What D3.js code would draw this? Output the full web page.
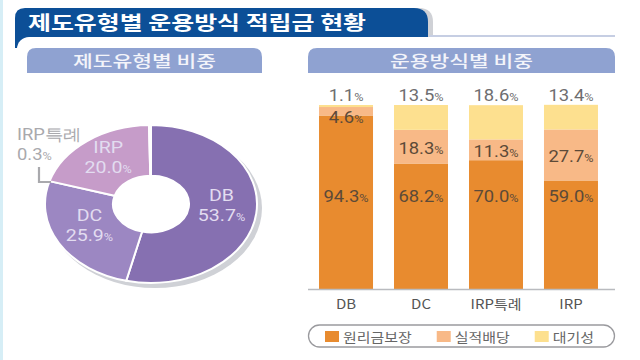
<!DOCTYPE html>
<html><head><meta charset="utf-8">
<script src="https://cdn.jsdelivr.net/npm/d3@7"></script>
<style>body{margin:0;background:#fff}svg{display:block}</style>
</head><body><svg id="c" width="640" height="360"></svg>
<script>
// ---- data ----
const title = "제도유형별 운용방식 적립금 현황";
const pieTitle = "제도유형별 비중";
const barTitle = "운용방식별 비중";
const pieCategories = ["DB", "DC", "IRP", "IRP특례"];
const pieValues = [53.7, 25.9, 20.0, 0.3];
const barCategories = ["DB", "DC", "IRP특례", "IRP"];
const seriesNames = ["원리금보장", "실적배당", "대기성"];
const principal = [94.3, 68.2, 70.0, 59.0];
const performance = [4.6, 18.3, 11.3, 27.7];
const standby = [1.1, 13.5, 18.6, 13.4];

// ---- style ----
const KR = "'Noto Sans CJK KR', 'Noto Sans', sans-serif";
const NUM = "Roboto, 'Noto Sans', sans-serif";
const SX = 1.15; // horizontal stretch seen in the reference
const pieColors = ["#8670b1", "#9c87c2", "#c69cc9", "#b8a6d4"];
const barColors = ["#e88b2f", "#f8b987", "#fde08f"];

const svg = d3.select("#c");

// left light strip
svg.append("rect").attr("x", 0).attr("y", 0).attr("width", 3).attr("height", 360).attr("fill", "#d6eef6");

// ---- header ----
const tabD = "M15,48 V18 Q15,8 25,8 H414 Q428,8 428,22 V48 Z";
svg.append("path").attr("d", tabD).attr("transform", "translate(5,0)").attr("fill", "#cfd1d6");
svg.append("path").attr("d", tabD).attr("fill", "#0c4f97");
svg.append("rect").attr("x", 17).attr("y", 37).attr("width", 700).attr("height", 400).attr("rx", 12).attr("fill", "#fff");
svg.append("line").attr("x1", 430).attr("x2", 615).attr("y1", 36).attr("y2", 36)
  .attr("stroke", "#c6cee3").attr("stroke-width", 2);
svg.append("text").attr("x", 28).attr("y", 30).text(title)
  .attr("font-family", KR).attr("font-weight", 700).attr("font-size", 19)
  .attr("fill", "#fff").attr("textLength", 338).attr("lengthAdjust", "spacingAndGlyphs");

function topRounded(x0, x1, y0, y1, r) {
  return `M${x0},${y1} V${y0 + r} Q${x0},${y0} ${x0 + r},${y0} H${x1 - r} Q${x1},${y0} ${x1},${y0 + r} V${y1} Z`;
}
[[27, 262, pieTitle], [308, 615, barTitle]].forEach(([a, b, t]) => {
  svg.append("path").attr("d", topRounded(a, b, 48, 73, 9)).attr("fill", "#8fa2d1");
  svg.append("text").attr("x", (a + b) / 2).attr("y", 67).attr("text-anchor", "middle").text(t)
    .attr("font-family", KR).attr("font-weight", 500).attr("font-size", 16).attr("fill", "#f3f4fa")
    .attr("textLength", 143).attr("lengthAdjust", "spacingAndGlyphs");
});

// ---- pie ----
const cx = 151, cy = 204, R = 106, ry = 0.745, R0 = 38;
const pie = d3.pie().sort(null).value(d => d)(pieValues);
const arc = d3.arc().innerRadius(R0).outerRadius(R);
const labelArc = d3.arc().innerRadius(71).outerRadius(71);

svg.append("ellipse").attr("cx", cx + 4).attr("cy", cy + 4).attr("rx", R + 1).attr("ry", R * ry + 1)
  .attr("fill", "#cfd1d6");
svg.append("ellipse").attr("cx", cx).attr("cy", cy).attr("rx", R0).attr("ry", R0 * ry).attr("fill", "#fff");
const pg = svg.append("g").attr("transform", `translate(${cx},${cy}) scale(1,${ry})`);
pg.selectAll("path").data(pie).join("path")
  .attr("d", arc).attr("fill", (d, i) => pieColors[i])
  .attr("stroke", "#fff").attr("stroke-width", 2).attr("vector-effect", "non-scaling-stroke");

function pctText(g, value, size, pctSize, color, anchor) {
  const t = g.append("text").attr("text-anchor", anchor).attr("fill", color).attr("font-family", NUM);
  t.append("tspan").attr("font-size", size).text(value.toFixed(1));
  t.append("tspan").attr("font-size", pctSize).text("%");
  return t;
}

pie.forEach((d, i) => {
  if (i === 3) return;
  const [lx, ly] = labelArc.centroid(d);
  const x = cx + lx, y = cy + ly * ry;
  const g1 = svg.append("g").attr("transform", `translate(${x},${y - 9}) scale(${SX},1)`);
  g1.append("text").attr("text-anchor", "middle").attr("font-family", NUM).attr("font-size", 17)
    .attr("fill", "#e2dcf0").text(pieCategories[i]);
  const g2 = svg.append("g").attr("transform", `translate(${x},${y + 11}) scale(${SX},1)`);
  pctText(g2, pieValues[i], 17, 11, "#e2dcf0", "middle");
});
// small slice callout
{
  const g1 = svg.append("g").attr("transform", `translate(17,140) scale(${SX},1)`);
  g1.append("text").attr("font-family", NUM).attr("font-size", 16).attr("fill", "#a9a9ad").text(pieCategories[3]);
  const g2 = svg.append("g").attr("transform", `translate(17,160) scale(${SX},1)`);
  pctText(g2, pieValues[3], 16, 11, "#a9a9ad", "start");
  svg.append("path").attr("d", "M39,167 V182 H51").attr("fill", "none").attr("stroke", "#a9a9ad").attr("stroke-width", 2.2);
}

// ---- stacked bars ----
const x = d3.scaleBand().domain(barCategories).range([308, 609]).paddingInner(0.28).paddingOuter(0.147);
const y = d3.scaleLinear().domain([0, 100]).range([289, 105]);
const rows = barCategories.map((c, i) => ({ cat: c, s0: principal[i], s1: performance[i], s2: standby[i] }));
const stack = d3.stack().keys(["s0", "s1", "s2"])(rows);

const bg = svg.append("g");
stack.forEach((layer, li) => {
  bg.selectAll(null).data(layer).join("rect")
    .attr("x", d => x(d.data.cat)).attr("width", x.bandwidth())
    .attr("y", d => y(d[1])).attr("height", d => y(d[0]) - y(d[1]))
    .attr("fill", barColors[li]);
});
// baseline
svg.append("line").attr("x1", 308).attr("x2", 615).attr("y1", y(0) + 0.5).attr("y2", y(0) + 0.5)
  .attr("stroke", "#b9bbbf").attr("stroke-width", 1.5);

// labels
stack.forEach((layer, li) => {
  layer.forEach(d => {
    const xc = x(d.data.cat) + x.bandwidth() / 2;
    const v = d[1] - d[0];
    let yy, color;
    if (li === 0) { yy = y(50) + 5; color = "#5c4a38"; }
    else if (li === 1) { yy = Math.max((y(d[0]) + y(d[1])) / 2 + 7, y(100) + 18); color = "#5c4a38"; }
    else { yy = y(100) - 4; color = "#6e6e70"; }
    const g = svg.append("g").attr("transform", `translate(${xc},${yy}) scale(${SX},1)`);
    pctText(g, v, 16, 11, color, "middle");
  });
});
// category axis labels
barCategories.forEach(c => {
  svg.append("g").attr("transform", `translate(${x(c) + x.bandwidth() / 2},309) scale(${SX},1)`)
    .append("text").attr("text-anchor", "middle").attr("font-family", KR).attr("font-size", 13)
    .attr("fill", "#555").text(c);
});

// legend
svg.append("rect").attr("x", 308.5).attr("y", 325).attr("width", 306).attr("height", 22).attr("rx", 11)
  .attr("fill", "#fff").attr("stroke", "#9a9a9e").attr("stroke-width", 1.3);
let lx = 325;
seriesNames.forEach((n, i) => {
  svg.append("rect").attr("x", lx).attr("y", 331).attr("width", 14).attr("height", 11).attr("fill", barColors[i]);
  const g = svg.append("g").attr("transform", `translate(${lx + 18},342) scale(${SX},1)`);
  const t = g.append("text").attr("font-family", KR).attr("font-size", 13).attr("fill", "#666").text(n);
  lx += 18 + t.node().getComputedTextLength() * SX + 25;
});
</script></body></html>
